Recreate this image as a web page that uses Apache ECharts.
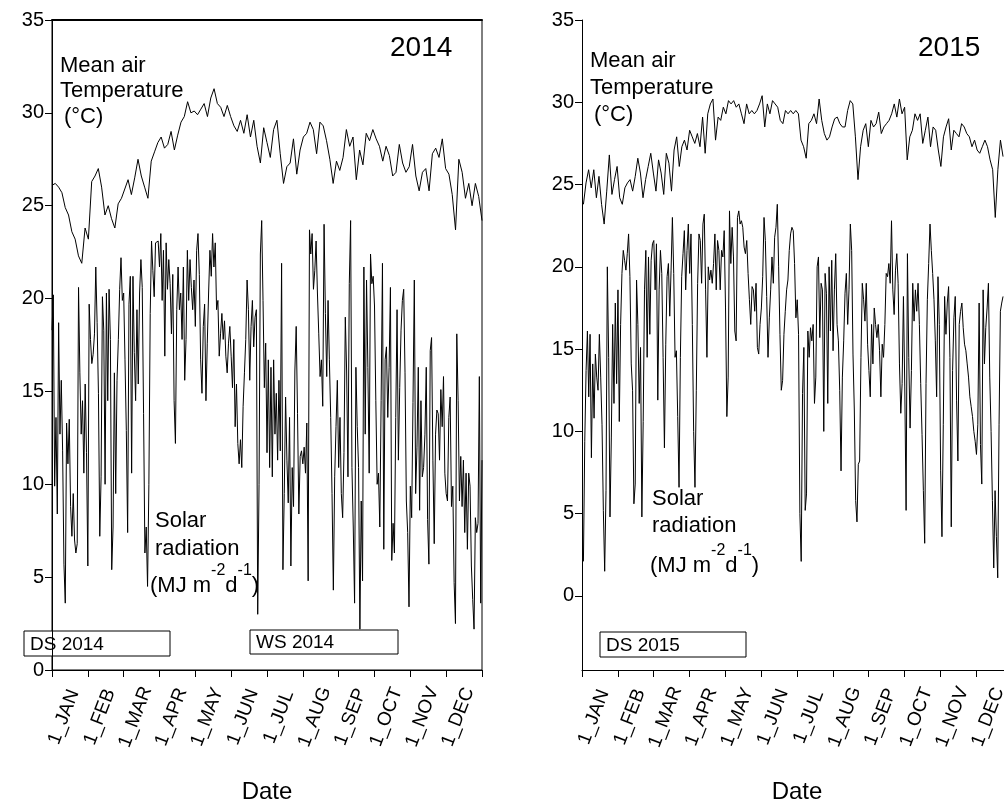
<!DOCTYPE html>
<html><head><meta charset="utf-8">
<script src="https://cdn.jsdelivr.net/npm/echarts@6/dist/echarts.min.js"></script>
<style>html,body{margin:0;padding:0;background:#fff}#c{width:1004px;height:805px}</style>
</head><body><div id="c"></div>
<script>
// ---- data ----
const monthLabels = ['1_JAN','1_FEB','1_MAR','1_APR','1_MAY','1_JUN','1_JUL','1_AUG','1_SEP','1_OCT','1_NOV','1_DEC'];
const monthTicks = [0,1,2,3,4,5,6,7,8,9,10,11,12];
const yTicks2014 = [0,5,10,15,20,25,30,35];
const yTicks2015 = [0,5,10,15,20,25,30,35];
// months of the year covered by each year's readings (2015 record is cut at late December)
const range2014 = [0, 12];
const range2015 = [0.04, 11.75];
const seasonLabels2014 = ['DS 2014','WS 2014'];
const seasonLabels2015 = ['DS 2015'];

const temp2014 = [26.1,26.2,26.0,25.7,24.9,24.5,23.6,23.2,22.3,21.9,23.8,23.2,26.3,26.6,27.0,26.0,24.5,25.0,24.3,23.8,25.1,25.4,25.9,26.4,25.6,26.5,27.5,26.6,26.0,25.4,27.4,27.9,28.4,28.7,28.1,28.3,29.0,28.0,28.8,29.5,29.8,30.6,30.0,30.1,29.9,30.2,30.5,29.8,30.8,31.3,30.5,30.3,29.8,30.4,29.8,29.3,29.0,29.6,28.9,29.9,28.7,29.6,28.2,27.3,29.2,28.4,
27.6,29.1,29.6,27.8,26.2,27.1,27.3,28.6,26.7,28.0,28.7,28.9,29.5,29.1,27.8,29.5,29.3,28.5,27.5,26.2,27.4,26.9,27.6,29.1,28.2,28.7,26.4,28.0,27.2,28.9,28.5,29.1,28.6,28.2,27.4,28.2,27.7,26.6,26.8,28.3,27.3,26.8,27.1,28.3,26.6,25.8,26.8,27.0,25.8,27.8,28.1,27.6,28.6,27.0,26.7,25.6,23.7,27.5,26.8,25.4,26.2,25.0,26.2,25.5,24.2];

const solar2014 = [18.3,20.2,9.9,13.6,8.4,18.7,12.7,15.6,11.8,5.7,3.6,13.3,11.1,13.5,8.8,7.2,9.5,7.0,6.3,6.8,20.6,16.0,12.7,14.5,10.6,15.4,11.7,5.6,19.7,17.8,16.5,17.0,18.1,21.7,18.7,14.9,7.2,10.4,20.1,18.3,10.0,20.3,14.5,20.5,17.8,5.4,7.7,16.0,9.5,15.6,17.8,20.5,22.2,19.9,20.3,16.7,12.9,7.4,19.7,21.2,10.6,21.2,17.1,14.5,19.4,15.4,20.3,22.1,20.6,13.8,6.3,7.7,4.5,10.0,19.2,23.1,21.5,20.1,23.0,23.1,
23.1,21.7,23.5,19.9,22.6,16.9,23.0,20.5,22.1,20.8,18.1,21.3,14.5,12.2,19.4,21.7,19.4,20.3,17.8,21.7,15.6,17.8,22.6,19.9,22.1,20.6,19.4,21.0,18.5,22.6,23.5,21.3,16.7,14.9,18.5,19.7,14.5,17.6,20.3,22.6,21.2,23.5,21.7,23.0,19.4,19.9,16.9,18.1,19.2,17.8,18.8,16.9,16.0,17.6,18.5,16.9,15.2,17.8,13.1,15.4,12.2,11.1,12.4,10.9,14.2,16.0,17.8,21.0,19.4,15.6,18.5,19.9,17.4,19.0,19.4,3.0,10.0,22.4,24.2,19.9,15.2,17.6,11.7,
16.7,10.9,16.3,10.4,16.7,12.7,14.9,11.3,15.6,11.8,21.9,5.4,9.5,14.7,11.3,9.0,13.6,5.6,10.9,8.8,16.1,18.5,13.8,8.4,11.5,11.8,11.1,12.0,10.6,13.3,4.8,23.7,22.4,23.5,20.5,21.5,23.1,20.3,18.1,15.8,16.7,14.2,24.0,19.2,15.8,19.9,16.7,13.6,9.5,4.3,10.4,13.1,15.6,10.9,13.6,9.5,8.2,11.7,19.0,16.1,10.4,20.8,24.2,10.9,7.7,3.6,16.3,13.1,10.9,2.2,9.1,4.8,21.7,12.7,21.0,16.3,10.6,22.4,20.8,21.2,19.6,14.5,10.0,10.6,
7.7,14.5,21.9,6.5,16.7,17.4,13.6,16.3,20.6,5.9,7.9,6.3,13.6,19.4,11.3,15.2,18.3,19.9,20.5,16.0,9.1,7.4,3.4,9.9,8.2,14.4,21.0,9.5,12.0,16.3,8.6,14.5,10.4,10.9,12.7,16.3,8.1,5.7,17.2,17.9,11.3,6.8,12.7,14.0,13.8,11.3,15.1,13.1,15.8,10.6,9.5,9.1,13.6,14.7,8.8,9.9,4.7,2.5,18.1,14.5,9.1,11.5,8.8,11.3,7.4,10.6,6.5,10.6,9.9,5.6,3.8,2.2,8.2,7.4,7.9,15.8,3.6,11.3];

const temp2015 = [23.8,25.1,25.9,24.8,25.9,24.2,25.5,23.8,22.6,24.6,26.8,24.4,25.3,26.1,24.2,23.8,24.8,25.1,25.3,24.6,25.5,26.6,25.7,24.2,25.3,26.1,26.9,25.7,24.6,26.5,25.7,24.4,26.9,26.3,24.6,27.1,27.9,26.1,27.3,27.7,27.1,28.3,27.9,27.5,28.1,27.3,29.1,26.9,29.3,29.9,30.2,27.7,29.1,28.9,29.7,29.3,30.1,29.9,30.1,29.7,29.9,29.3,28.7,29.9,29.3,29.5,29.3,29.5,29.9,30.4,28.5,29.9,29.3,30.1,29.9,29.7,28.9,28.7,29.5,29.3,
29.5,29.3,29.5,29.3,27.7,27.3,26.6,28.7,28.9,29.3,28.7,30.2,28.9,28.1,27.7,27.9,28.5,29.0,29.1,28.7,28.5,28.5,29.5,30.1,29.9,27.9,25.3,27.3,28.3,28.7,27.3,28.9,28.5,28.7,29.4,28.1,28.5,28.7,28.9,29.3,29.9,29.1,30.2,29.3,29.7,26.5,27.9,28.3,29.3,28.9,29.3,27.5,28.3,29.1,27.3,28.5,28.3,27.1,26.1,27.9,28.5,29.0,27.1,28.3,28.1,27.9,28.7,28.5,28.1,27.9,27.3,27.7,27.1,26.9,27.3,27.7,27.3,26.5,25.9,23.0,25.9,27.7,26.7];

const solar2015 = [2.1,9.4,13.7,16.1,12.1,15.9,8.4,14.1,10.8,14.7,13.3,12.5,15.9,13.3,10.4,5.2,1.5,6.4,20.0,14.5,4.8,9.6,16.5,11.7,17.8,12.9,18.6,10.6,16.5,19.6,21.0,20.4,19.8,20.8,22.0,19.4,14.1,12.5,5.6,6.8,19.2,16.5,11.7,15.1,4.8,10.6,18.6,21.0,14.5,20.6,15.9,20.4,21.4,21.6,18.6,21.4,11.9,18.6,21.0,19.6,14.5,9.0,15.3,19.4,20.2,17.0,19.8,23.0,19.6,14.5,14.9,10.9,6.6,14.5,19.4,20.8,22.2,18.6,21.0,22.6,19.6,22.0,16.5,10.0,6.6,12.5,19.0,22.0,21.6,19.0,22.6,23.2,18.6,14.5,20.0,19.2,19.8,19.0,20.2,22.0,18.6,21.6,21.0,
18.6,21.0,20.6,22.2,17.5,10.9,13.3,23.4,20.2,22.4,20.6,16.1,15.5,23.0,23.4,22.6,22.8,22.4,21.2,20.8,21.6,19.6,18.0,16.5,18.8,18.6,17.3,19.0,15.1,14.7,16.5,17.5,19.4,23.0,21.6,18.2,14.5,16.9,18.6,20.6,19.0,21.8,22.4,23.8,20.0,15.9,12.5,13.1,15.9,17.3,18.6,19.2,21.0,22.0,22.4,22.2,20.2,16.9,18.0,15.9,5.0,2.1,12.3,15.1,5.2,6.2,16.1,14.5,16.3,15.5,16.5,11.7,13.3,20.0,20.6,15.7,19.0,18.6,10.0,19.6,18.4,11.7,20.0,16.1,20.4,14.9,18.6,20.8,16.5,15.5,12.5,7.6,13.3,15.5,18.4,19.6,16.5,18.6,22.6,21.0,14.7,11.3,5.8,4.5,8.0,
8.2,14.5,19.0,18.0,16.7,19.0,15.3,13.7,12.1,16.5,14.1,17.5,16.5,15.7,16.5,14.9,12.1,15.3,14.5,16.5,19.6,19.4,20.2,19.0,22.8,18.6,17.1,19.8,20.8,19.0,14.1,11.1,12.9,18.2,12.7,5.2,20.8,14.5,10.2,13.7,19.0,16.7,18.6,17.3,19.0,16.5,12.9,9.8,6.4,3.2,12.9,18.0,20.2,22.6,21.0,19.6,18.0,15.5,12.1,19.4,16.5,7.6,3.6,10.4,18.2,15.9,17.8,18.8,14.5,4.2,13.7,16.9,18.2,11.9,8.2,16.5,17.3,17.8,16.3,15.3,14.9,14.1,13.3,12.1,11.5,10.9,10.0,9.4,8.6,10.4,17.8,9.2,6.8,18.6,14.1,16.3,17.5,19.0,13.3,10.0,5.8,1.7,6.4,3.6,1.1,10.4,17.3,17.8,18.2];

// ---- chart ----
const FONT = 'Liberation Sans, Arial, sans-serif';
const LABEL_SHIFT = 0.33; // month labels sit a little right of their tick in the original
function toPairs(arr, range) {
  const n = arr.length;
  return arr.map((v, i) => [range[0] + i * (range[1] - range[0]) / (n - 1), v]);
}
function xAxisFor(gi) {
  return {
    type: 'value', gridIndex: gi, min: 0, max: 12, interval: 1,
    name: 'Date', nameLocation: 'middle', nameGap: 110,
    nameTextStyle: { fontSize: 24, color: '#000', fontFamily: FONT },
    axisLine: { show: true, onZero: false, lineStyle: { color: '#000', width: 1 } },
    axisTick: { show: true, length: 7, customValues: monthTicks, lineStyle: { color: '#000' } },
    axisLabel: { rotate: 69, margin: 47, fontSize: 19, color: '#000', fontFamily: FONT,
      align: 'center', verticalAlign: 'middle',
      customValues: monthLabels.map((_, i) => i + LABEL_SHIFT),
      formatter: v => monthLabels[Math.floor(v)] || '' },
    splitLine: { show: false }
  };
}
const yLabelStyle = { fontSize: 20, margin: 8, color: '#000', fontFamily: FONT };
const lineSeries = (data, xi, yi) => ({
  type: 'line', xAxisIndex: xi, yAxisIndex: yi, data: data, showSymbol: false, symbol: 'none',
  lineStyle: { color: '#000', width: 1 }, silent: true, animation: false, clip: true
});
function box(x, y, w, h, label) {
  return { type: 'group', x: x, y: y, z: 100, children: [
    { type: 'rect', shape: { x: 0, y: 0, width: w, height: h }, style: { fill: '#fff', stroke: '#000', lineWidth: 1 } },
    { type: 'text', x: 6, y: h / 2 + 1, style: { text: label, fontSize: 19, fontFamily: FONT, fill: '#000', verticalAlign: 'middle' } }
  ]};
}
function txt(x, y, s, size) {
  return { type: 'text', x: x, y: y, z: 100, style: { text: s, fontSize: size || 22, fontFamily: FONT, fill: '#000', verticalAlign: 'middle' } };
}
function unitsText(x, y) {
  return { type: 'text', x: x, y: y, z: 100, style: {
    text: '{n|(MJ m}{s|-2}{n|d}{s|-1}{n|)}', fontFamily: FONT, fill: '#000', verticalAlign: 'middle',
    rich: { n: { fontSize: 22, lineHeight: 34, verticalAlign: 'bottom', fontFamily: FONT, fill: '#000' },
            s: { fontSize: 16, lineHeight: 34, verticalAlign: 'top', fontFamily: FONT, fill: '#000' } } } };
}

const chart = echarts.init(document.getElementById('c'), null, { renderer: 'canvas', width: 1004, height: 805 });
chart.setOption({
  animation: false,
  backgroundColor: '#fff',
  grid: [
    { left: 52, top: 20, width: 430, height: 650, containLabel: false, outerBoundsMode: 'none', show: true, borderColor: '#000', borderWidth: 1 },
    { left: 582, top: 20, width: 430, height: 650, containLabel: false, outerBoundsMode: 'none' }
  ],
  xAxis: [
    xAxisFor(0), xAxisFor(1),
    { type: 'value', gridIndex: 0, position: 'top', min: 0, max: 12, axisLine: { show: true, onZero: false, lineStyle: { color: '#000', width: 2 } }, axisTick: { show: false }, axisLabel: { show: false }, splitLine: { show: false } }
  ],
  yAxis: [
    { type: 'value', gridIndex: 0, min: 0, max: 35, interval: 5,
      axisLine: { show: true, onZero: false, lineStyle: { color: '#000' } },
      axisTick: { show: true, length: 7, lineStyle: { color: '#000' } },
      axisLabel: Object.assign({ customValues: yTicks2014 }, yLabelStyle), splitLine: { show: false } },
    { type: 'value', gridIndex: 1, min: -4.5, max: 35,
      axisLine: { show: true, onZero: false, lineStyle: { color: '#000' } },
      axisTick: { show: true, length: 7, customValues: yTicks2015, lineStyle: { color: '#000' } },
      axisLabel: Object.assign({ customValues: yTicks2015 }, yLabelStyle), splitLine: { show: false } }
  ],
  series: [
    lineSeries(toPairs(temp2014, range2014), 0, 0),
    lineSeries(toPairs(solar2014, range2014), 0, 0),
    lineSeries(toPairs(temp2015, range2015), 1, 1),
    lineSeries(toPairs(solar2015, range2015), 1, 1)
  ],
  graphic: [
    txt(390, 48, '2014', 28), txt(918, 48, '2015', 28),
    txt(60, 66, 'Mean air'), txt(60, 91, 'Temperature'), txt(64, 117, '(°C)'),
    txt(155, 521, 'Solar'), txt(155, 549, 'radiation'), unitsText(150, 580),
    txt(590, 61, 'Mean air'), txt(590, 88, 'Temperature'), txt(594, 115, '(°C)'),
    txt(652, 499, 'Solar'), txt(652, 526, 'radiation'), unitsText(650, 560),
    box(24, 631, 146, 25, seasonLabels2014[0]),
    box(250, 630, 148, 24, seasonLabels2014[1]),
    box(600, 632, 146, 25, seasonLabels2015[0])
  ]
});
</script>
</body></html>
